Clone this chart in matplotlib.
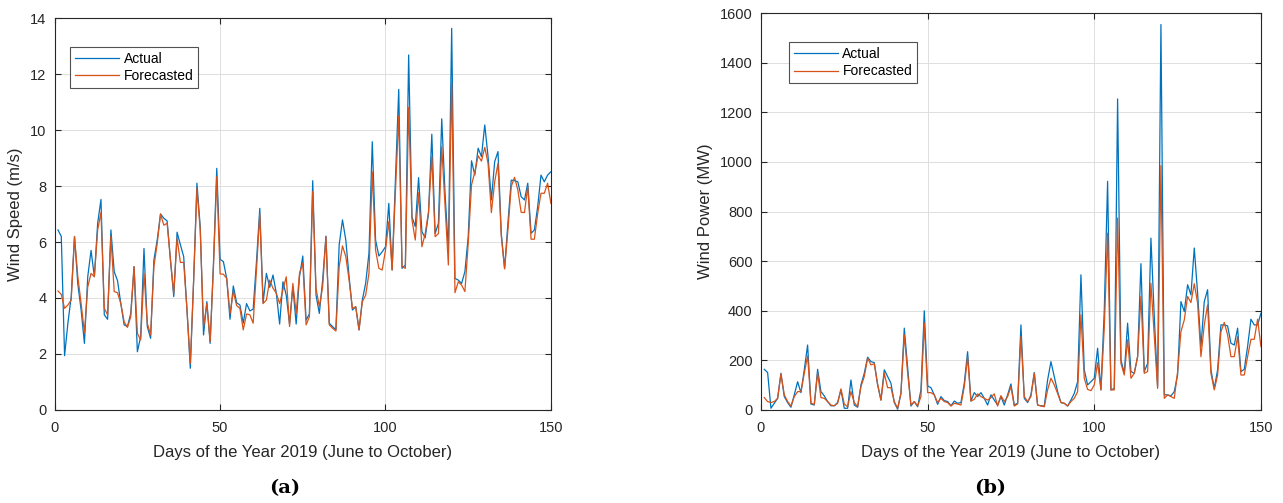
import matplotlib
matplotlib.use("Agg")
import matplotlib.pyplot as plt

days = list(range(1, 151))

speed_actual = [
    6.43, 6.2, 1.94, 3.1, 4.05, 6.2, 4.5, 3.57, 2.38, 4.76,
    5.7, 4.76, 6.67, 7.52, 3.4, 3.24, 6.43, 4.94, 4.62, 3.8,
    3.04, 2.98, 3.45, 5.12, 2.08, 2.62, 5.77, 2.98, 2.56, 5.36,
    6.07, 7.0, 6.85, 6.75, 5.36, 4.05, 6.35, 5.9, 5.48, 3.57,
    1.49, 4.6, 8.1, 6.55, 2.68, 3.87, 2.38, 5.24, 8.63, 5.38,
    5.3, 4.7, 3.24, 4.43, 3.83, 3.75, 3.1, 3.8, 3.54, 3.6,
    5.3, 7.2, 3.83, 4.88, 4.38, 4.82, 4.17, 3.07, 4.58, 4.1,
    3.07, 4.4, 3.07, 4.76, 5.5, 3.21, 3.43, 8.19, 4.1, 3.45,
    4.64, 6.21, 3.1, 2.98, 2.86, 5.9, 6.79, 6.07, 4.76, 3.57,
    3.69, 2.86, 3.93, 4.52, 5.6, 9.58, 6.07, 5.5, 5.65, 5.83,
    7.38, 5.0, 8.2, 11.45, 5.06, 5.18, 12.68, 6.9, 6.55, 8.3,
    6.37, 6.15, 7.02, 9.85, 6.3, 6.67, 10.4, 7.74, 5.71, 13.63,
    4.7, 4.64, 4.52, 4.94, 6.19, 8.9, 8.39, 9.35, 9.05, 10.18,
    9.05, 7.5, 8.87, 9.23, 6.3, 5.06, 6.67, 8.21, 8.19, 8.15,
    7.62, 7.5, 8.1, 6.31, 6.43, 7.26, 8.39, 8.15, 8.39, 8.51,
]

speed_forecast = [
    4.25, 4.13, 3.63, 3.75, 3.93, 6.19, 4.76, 3.8, 2.76, 4.4,
    4.88, 4.76, 6.43, 7.06, 3.63, 3.4, 6.2, 4.23, 4.19, 3.8,
    3.15, 2.95, 3.33, 5.12, 2.74, 2.5, 4.88, 3.1, 2.68, 5.12,
    5.95, 7.0, 6.6, 6.67, 5.36, 4.17, 6.13, 5.27, 5.27, 3.57,
    1.67, 4.6, 7.9, 6.43, 2.98, 3.8, 2.44, 5.12, 8.33, 4.86,
    4.85, 4.7, 3.45, 4.23, 3.73, 3.63, 2.86, 3.43, 3.4, 3.1,
    5.0, 7.0, 3.8, 3.93, 4.64, 4.35, 4.17, 3.8, 4.29, 4.76,
    2.98, 4.52, 3.45, 4.88, 5.24, 3.04, 3.33, 7.8, 4.35, 3.69,
    4.4, 6.19, 3.04, 2.92, 2.82, 5.12, 5.86, 5.48, 4.64, 3.63,
    3.69, 2.86, 3.87, 4.1, 4.88, 8.51, 5.71, 5.06, 5.0, 5.71,
    6.73, 5.0, 7.8, 10.5, 5.12, 5.06, 10.81, 6.8, 6.07, 7.76,
    5.83, 6.3, 7.08, 9.05, 6.19, 6.3, 9.4, 7.26, 5.18, 11.69,
    4.19, 4.58, 4.46, 4.23, 5.95, 8.04, 8.5, 9.08, 8.89, 9.38,
    8.81, 7.05, 8.15, 8.81, 6.2, 5.04, 6.43, 7.98, 8.31, 7.86,
    7.06, 7.05, 7.98, 6.1, 6.1, 7.02, 7.74, 7.74, 8.1, 7.38,
]

power_actual = [
    164, 151, 7, 27, 47, 148, 54, 30, 11, 61,
    114, 70, 162, 262, 24, 20, 164, 74, 57, 34,
    17, 17, 30, 81, 7, 7, 121, 20, 11, 101,
    148, 213, 195, 191, 101, 40, 162, 135, 108, 30,
    3, 67, 330, 175, 16, 34, 13, 81, 400, 97,
    90, 61, 23, 54, 38, 34, 17, 36, 27, 30,
    108, 235, 36, 70, 54, 70, 47, 20, 61, 40,
    20, 54, 20, 61, 105, 20, 27, 343, 47, 30,
    61, 151, 20, 17, 16, 121, 195, 135, 74, 30,
    27, 16, 40, 67, 114, 545, 162, 101, 114, 128,
    249, 81, 400, 922, 81, 87, 1254, 202, 148, 350,
    155, 148, 215, 590, 155, 188, 693, 377, 94, 1554,
    61, 61, 57, 74, 141, 437, 397, 505, 464, 653,
    471, 256, 437, 485, 162, 87, 162, 343, 343, 339,
    269, 262, 330, 155, 164, 256, 366, 343, 343, 390,
]

power_forecast = [
    50, 34, 30, 34, 47, 145, 61, 34, 16, 54,
    74, 74, 148, 218, 27, 23, 148, 50, 47, 34,
    20, 17, 27, 85, 24, 13, 74, 30, 13, 94,
    135, 209, 182, 186, 105, 40, 148, 90, 90, 34,
    7, 67, 303, 150, 20, 34, 16, 54, 350, 70,
    70, 61, 30, 47, 34, 30, 16, 27, 24, 20,
    94, 213, 36, 43, 65, 54, 47, 40, 50, 65,
    16, 58, 34, 54, 94, 16, 24, 296, 54, 34,
    54, 148, 20, 16, 13, 81, 128, 101, 67, 30,
    27, 16, 34, 47, 74, 384, 128, 83, 78, 101,
    191, 81, 330, 713, 81, 81, 774, 188, 141, 283,
    128, 148, 215, 458, 148, 155, 511, 296, 87, 985,
    47, 61, 54, 47, 155, 316, 363, 458, 433, 509,
    431, 215, 343, 424, 148, 81, 141, 316, 353, 303,
    215, 215, 296, 141, 141, 215, 285, 285, 366, 256,
]

x_ticks = [0, 50, 100, 150]
speed_ticks = [0, 2, 4, 6, 8, 10, 12, 14]
power_ticks = [0, 200, 400, 600, 800, 1000, 1200, 1400, 1600]

BLUE = "#0072BD"
ORANGE = "#D95319"
AXC = "#262626"

plt.rcParams["font.family"] = ["Liberation Sans", "DejaVu Sans"]

fig = plt.figure(figsize=(12.83, 5.03), dpi=100)
ax1 = fig.add_axes([0.0426, 0.1849, 0.3868, 0.7793])
ax2 = fig.add_axes([0.5931, 0.1849, 0.3897, 0.7890])


def style(ax, actual, fore, yticks, ylabel, legend_anchor):
    ax.plot(days, actual, color=BLUE, lw=0.9, label="Actual")
    ax.plot(days, fore, color=ORANGE, lw=0.9, label="Forecasted")
    ax.set_xlim(0, 150)
    ax.set_ylim(yticks[0], yticks[-1])
    ax.set_xticks(x_ticks)
    ax.set_yticks(yticks)
    ax.grid(True, color="#dedede", lw=0.7)
    ax.set_axisbelow(True)
    ax.tick_params(direction="in", top=True, right=True, length=4.5,
                   width=0.8, color=AXC, labelsize=10.5, labelcolor=AXC)
    ax.tick_params(axis="x", pad=8)
    ax.tick_params(axis="y", pad=6)
    for s in ax.spines.values():
        s.set_color(AXC)
        s.set_linewidth(0.8)
    ax.set_xlabel("Days of the Year 2019 (June to October)", fontsize=12,
                  color=AXC, labelpad=7)
    ax.set_ylabel(ylabel, fontsize=12, color=AXC, labelpad=5)
    leg = ax.legend(loc="upper left", bbox_to_anchor=legend_anchor,
                    fontsize=10, frameon=True, fancybox=False,
                    handlelength=3.2, borderpad=0.35, labelspacing=0.25,
                    handletextpad=0.3, borderaxespad=0.0)
    leg.get_frame().set_edgecolor(AXC)
    leg.get_frame().set_linewidth(0.8)


style(ax1, speed_actual, speed_forecast, speed_ticks, "Wind Speed (m/s)",
      (0.031, 0.926))
style(ax2, power_actual, power_forecast, power_ticks, "Wind Power (MW)",
      (0.056, 0.927))

fig.text(285 / 1283, 1 - 488 / 503, "(a)", ha="center", va="center",
         fontsize=14, fontweight="bold", family=["DejaVu Serif"])
fig.text(990 / 1283, 1 - 488 / 503, "(b)", ha="center", va="center",
         fontsize=14, fontweight="bold", family=["DejaVu Serif"])

fig.savefig("out.png", dpi=100)
